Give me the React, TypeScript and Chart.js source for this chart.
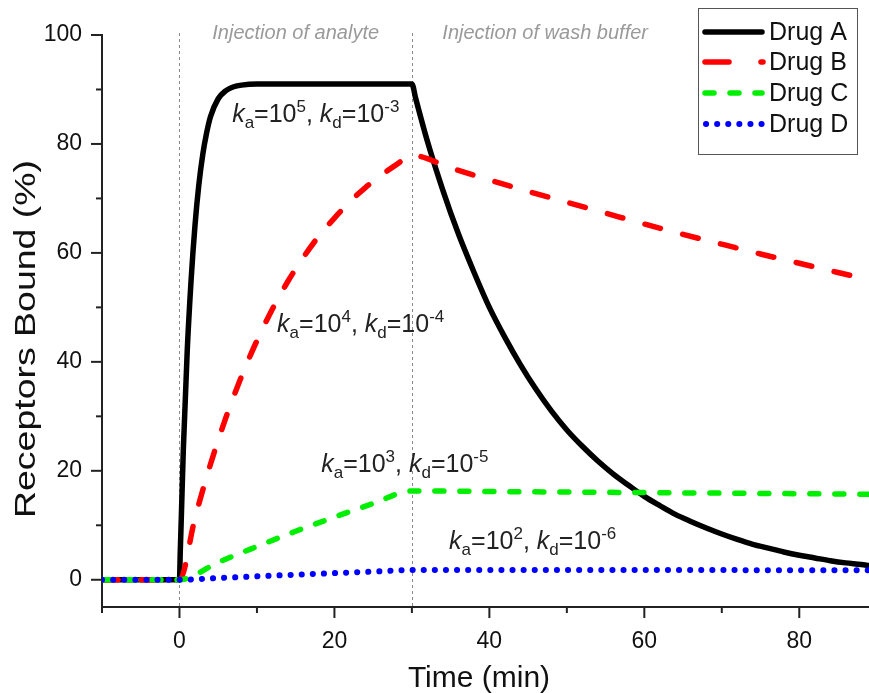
import React, { useEffect, useRef } from "react";
import { Chart, registerables } from "chart.js";

Chart.register(...registerables);

const FONT = '"Liberation Sans", Arial, Helvetica, sans-serif';

// ---- data ----
const seriesNames = ["Drug A", "Drug B", "Drug C", "Drug D"];

const timeA = [-10, 0, 0.1, 0.25, 0.5, 1, 1.5, 2, 2.5, 3, 3.5, 4, 5, 6, 7, 8, 10, 20, 30, 30.5, 32, 34, 36, 38, 40, 42, 44, 46, 48, 50, 52, 54, 56, 58, 60, 62, 64, 66, 68, 70, 72, 74, 76, 78, 80, 82, 84, 86, 88, 89];
const drugA = [0, 0, 5, 12, 24, 42, 55, 65, 72.5, 78, 82, 85, 88.3, 89.8, 90.5, 90.8, 91, 91, 91, 88.3, 80.5, 71.5, 63.5, 56.5, 50, 44.5, 39.5, 35, 31, 27.5, 24.5, 21.8, 19.4, 17.3, 15.3, 13.6, 12.0, 10.7, 9.5, 8.4, 7.4, 6.5, 5.8, 5.1, 4.5, 4.0, 3.5, 3.1, 2.8, 2.6];

const timeB = [-10, 0, 2, 4, 6, 8, 10, 12, 14, 16, 18, 20, 22, 24, 26, 28, 30, 35, 40, 45, 50, 55, 60, 65, 70, 75, 80, 85, 89];
const drugB = [0, 0, 11.3, 21.2, 29.8, 37.3, 43.9, 49.7, 54.8, 59.2, 63.1, 66.4, 69.4, 72.0, 74.2, 76.2, 77.9, 75.6, 73.4, 71.3, 69.3, 67.3, 65.3, 63.4, 61.6, 59.8, 58.1, 56.4, 55.1];

const timeC = [-10, 0, 5, 10, 15, 20, 25, 30, 40, 50, 60, 70, 80, 89];
const drugC = [0, 0, 3.2, 6.1, 8.9, 11.5, 14.0, 16.3, 16.2, 16.1, 16.0, 15.9, 15.8, 15.7];

const timeD = [-10, 0, 5, 10, 15, 20, 25, 30, 50, 70, 89];
const drugD = [0, 0, 0.32, 0.63, 0.93, 1.22, 1.5, 1.78, 1.78, 1.77, 1.76];

const injectionTimes = [0, 30];
const injectionLabels = ["Injection of analyte", "Injection of wash buffer"];

const kaExponents = ["5", "4", "3", "2"];
const kdExponents = ["-3", "-4", "-5", "-6"];

const xMin = -10, xMax = 89, xStep = 10, xLabelStep = 20;
const yMin = -5, yMax = 100, yStep = 10, yLabelStep = 20;

// ---- styles ----
const colors = ["#000000", "#ff0000", "#00ee00", "#0000ff"];
const dashes: number[][] = [[], [16, 23], [9, 16], [0.1, 11]];
const widths = [5.5, 5.5, 5.5, 6];
const labelAnchors = [
  { x: 6.8, y: 84 },
  { x: 12.6, y: 45.5 },
  { x: 18.3, y: 19.7 },
  { x: 34.8, y: 5.7 },
];
const injectionLabelCenters = [15, 47.2];

function zip(t: number[], v: number[]) {
  return t.map((x, i) => ({ x, y: v[i] }));
}

const overlayPlugin = {
  id: "overlay",
  beforeDatasetsDraw(chart: any) {
    const { ctx, chartArea, scales } = chart;
    ctx.save();
    ctx.strokeStyle = "#8a8a8a";
    ctx.lineWidth = 1;
    ctx.setLineDash([3, 3]);
    injectionTimes.forEach((t) => {
      const px = Math.round(scales.x.getPixelForValue(t)) + 0.5;
      ctx.beginPath();
      ctx.moveTo(px, chartArea.top - 2);
      ctx.lineTo(px, chartArea.bottom);
      ctx.stroke();
    });
    ctx.setLineDash([]);
    ctx.fillStyle = "#9a9a9a";
    ctx.font = `italic 20px ${FONT}`;
    ctx.textAlign = "center";
    ctx.textBaseline = "alphabetic";
    injectionLabels.forEach((s, i) => {
      ctx.fillText(s, scales.x.getPixelForValue(injectionLabelCenters[i]), chartArea.top + 4);
    });
    ctx.restore();
  },
  afterDraw(chart: any) {
    const { ctx, chartArea, scales } = chart;
    ctx.save();
    // tick marks
    ctx.strokeStyle = "#222";
    ctx.lineWidth = 2;
    scales.x.ticks.forEach((tk: any) => {
      const px = scales.x.getPixelForValue(tk.value);
      const len = Math.abs(tk.value % xLabelStep) < 1e-9 ? 11 : 6;
      ctx.beginPath();
      ctx.moveTo(px, chartArea.bottom);
      ctx.lineTo(px, chartArea.bottom + len);
      ctx.stroke();
    });
    scales.y.ticks.forEach((tk: any) => {
      const py = scales.y.getPixelForValue(tk.value);
      const len = Math.abs(tk.value % yLabelStep) < 1e-9 ? 11 : 6;
      ctx.beginPath();
      ctx.moveTo(chartArea.left, py);
      ctx.lineTo(chartArea.left - len, py);
      ctx.stroke();
    });

    // axis titles
    ctx.fillStyle = "#111";
    ctx.font = `30px ${FONT}`;
    ctx.textAlign = "center";
    ctx.textBaseline = "alphabetic";
    ctx.fillText("Time (min)", 479, 687);
    ctx.save();
    ctx.translate(35, 339);
    ctx.rotate(-Math.PI / 2);
    const yTitle = "Receptors Bound (%)";
    const w = ctx.measureText(yTitle).width;
    ctx.scale(358 / w, 1);
    ctx.fillText(yTitle, 0, 0);
    ctx.restore();

    // k labels
    ctx.fillStyle = "#222";
    ctx.textAlign = "left";
    labelAnchors.forEach((a, i) => {
      let cx = scales.x.getPixelForValue(a.x);
      const by = scales.y.getPixelForValue(a.y);
      const seg = (text: string, size: number, italic: boolean, dy: number) => {
        ctx.font = `${italic ? "italic " : ""}${size}px ${FONT}`;
        ctx.fillText(text, cx, by + dy);
        cx += ctx.measureText(text).width;
      };
      seg("k", 25, true, 0);
      seg("a", 17, false, 6);
      seg("=10", 25, false, 0);
      seg(kaExponents[i], 17, false, -10);
      seg(", ", 25, false, 0);
      seg("k", 25, true, 0);
      seg("d", 17, false, 6);
      seg("=10", 25, false, 0);
      seg(kdExponents[i], 17, false, -10);
    });

    // legend
    const bx = 698, by = 8, bw = 159, bh = 146;
    ctx.fillStyle = "#fff";
    ctx.fillRect(bx, by, bw, bh);
    ctx.strokeStyle = "#555";
    ctx.lineWidth = 1;
    ctx.strokeRect(bx + 0.5, by + 0.5, bw, bh);
    const rows = [32, 62, 93, 124];
    const legendDash: number[][] = [[], [24, 32], [9, 16], [0.1, 11]];
    seriesNames.forEach((name, i) => {
      const y = rows[i];
      ctx.strokeStyle = colors[i];
      ctx.lineWidth = widths[i];
      ctx.lineCap = "round";
      ctx.setLineDash(legendDash[i]);
      ctx.beginPath();
      ctx.moveTo(i === 3 ? 706 : 705, y);
      ctx.lineTo(i === 1 ? 763 : 762, y);
      ctx.stroke();
      ctx.setLineDash([]);
      ctx.fillStyle = "#111";
      ctx.font = `25px ${FONT}`;
      ctx.textBaseline = "middle";
      ctx.fillText(name, 769, y + 1);
    });
    ctx.restore();
  },
};

export default function App() {
  const ref = useRef<HTMLCanvasElement | null>(null);
  useEffect(() => {
    if (!ref.current) return;
    const series = [zip(timeA, drugA), zip(timeB, drugB), zip(timeC, drugC), zip(timeD, drugD)];
    const chart = new Chart(ref.current, {
      type: "line",
      data: {
        datasets: series.map((d, i) => ({
          label: seriesNames[i],
          data: d,
          borderColor: colors[i],
          backgroundColor: colors[i],
          borderWidth: widths[i],
          borderDash: dashes[i],
          borderCapStyle: "round" as const,
          borderJoinStyle: "round" as const,
          pointRadius: 0,
          pointHoverRadius: 0,
          fill: false,
          cubicInterpolationMode: "monotone" as const,
          order: 4 - i,
        })),
      },
      options: {
        responsive: false,
        animation: false,
        events: [],
        layout: { padding: { top: 35, right: 0, left: 0, bottom: 0 } },
        plugins: { legend: { display: false }, tooltip: { enabled: false }, title: { display: false } },
        scales: {
          x: {
            type: "linear",
            min: xMin,
            max: xMax,
            afterFit: (s: any) => { s.height = 86; },
            grid: { display: false },
            border: { display: true, color: "#222", width: 2 },
            ticks: {
              stepSize: xStep,
              includeBounds: false,
              autoSkip: false,
              maxRotation: 0,
              padding: 13,
              color: "#111",
              font: { family: FONT, size: 23 },
              callback: (v: any) => (Math.abs(Number(v) % xLabelStep) < 1e-9 ? String(v) : ""),
            },
          },
          y: {
            type: "linear",
            min: yMin,
            max: yMax,
            afterFit: (s: any) => { s.width = 102; },
            grid: { display: false },
            border: { display: true, color: "#222", width: 2 },
            ticks: {
              stepSize: yStep,
              includeBounds: false,
              autoSkip: false,
              padding: 12,
              color: "#111",
              font: { family: FONT, size: 23 },
              callback: (v: any) => (Math.abs(Number(v) % yLabelStep) < 1e-9 ? String(v) : ""),
            },
          },
        },
      },
      plugins: [overlayPlugin],
    });
    return () => chart.destroy();
  }, []);
  return (
    <div style={{ position: "absolute", left: 0, top: 0, width: 869, height: 693, background: "#fff" }}>
      <canvas ref={ref} width={869} height={693} style={{ display: "block" }} />
    </div>
  );
}
